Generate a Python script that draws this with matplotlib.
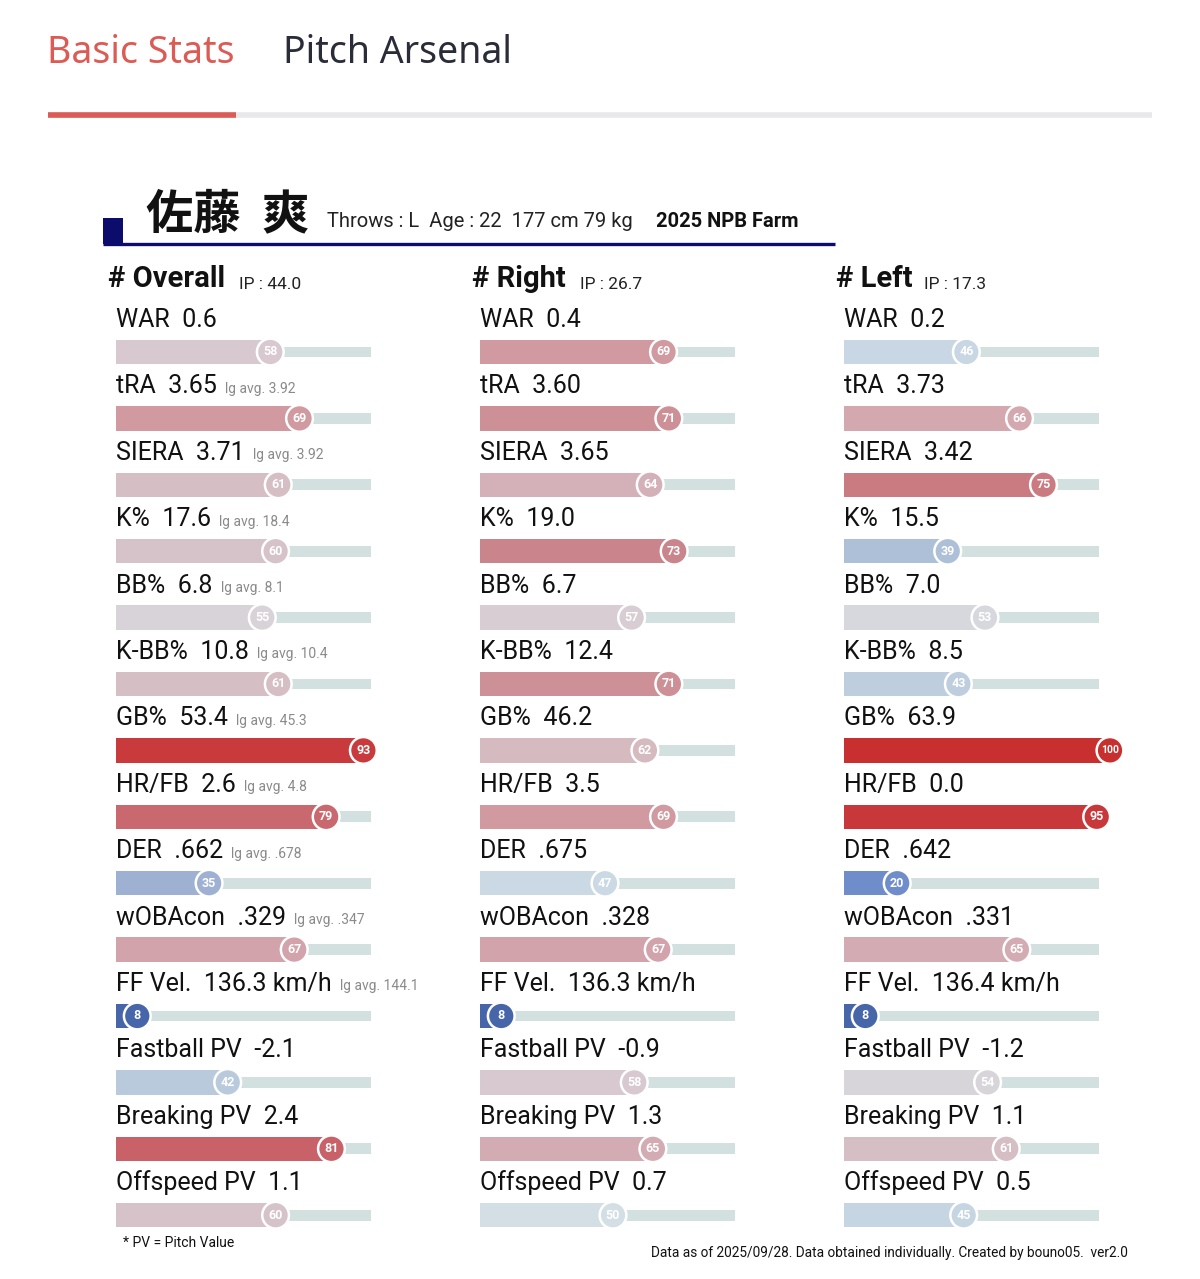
import matplotlib

matplotlib.use("Agg", force=True)

import matplotlib.pyplot as plt
from matplotlib import font_manager
from matplotlib.colors import LinearSegmentedColormap

# ---- data ----
stat_names = ["WAR", "tRA", "SIERA", "K%", "BB%", "K-BB%", "GB%", "HR/FB", "DER",
              "wOBAcon", "FF Vel.", "Fastball PV", "Breaking PV", "Offspeed PV"]
lg_avg = ["", "3.92", "3.92", "18.4", "8.1", "10.4", "45.3", "4.8", ".678", ".347",
          "144.1", "", "", ""]

split_names = ["Overall", "Right", "Left"]
split_ip = ["44.0", "26.7", "17.3"]

overall_values = ["0.6", "3.65", "3.71", "17.6", "6.8", "10.8", "53.4", "2.6", ".662",
                  ".329", "136.3 km/h", "-2.1", "2.4", "1.1"]
overall_pct = [58, 69, 61, 60, 55, 61, 93, 79, 35, 67, 8, 42, 81, 60]

right_values = ["0.4", "3.60", "3.65", "19.0", "6.7", "12.4", "46.2", "3.5", ".675",
                ".328", "136.3 km/h", "-0.9", "1.3", "0.7"]
right_pct = [69, 71, 64, 73, 57, 71, 62, 69, 47, 67, 8, 58, 65, 50]

left_values = ["0.2", "3.73", "3.42", "15.5", "7.0", "8.5", "63.9", "0.0", ".642",
               ".331", "136.4 km/h", "-1.2", "1.1", "0.5"]
left_pct = [46, 66, 75, 39, 53, 43, 100, 95, 20, 65, 8, 54, 61, 45]

player_name = "佐藤  爽"
profile = "Throws : L  Age : 22  177 cm 79 kg"
season = "2025 NPB Farm"

# ---- fonts ----
available = {f.name for f in font_manager.fontManager.ttflist}
NARROW = "Liberation Sans Narrow" if "Liberation Sans Narrow" in available else "Roboto"
CJK = ["Noto Sans CJK JP", "DejaVu Sans"]

cmap = LinearSegmentedColormap.from_list("pct", [
    (0.00, "#3a5aa3"), (0.08, "#4766aa"), (0.20, "#6e8dca"), (0.35, "#9fb1d2"),
    (0.45, "#c6d5e2"), (0.50, "#d3dfe6"), (0.55, "#d8d3d8"), (0.60, "#d6c3c9"),
    (0.68, "#d29fa6"), (0.73, "#c9858b"), (0.80, "#c9666c"), (0.93, "#c83a3d"),
    (1.00, "#c83030"),
])

W, H = 1200, 1279
fig = plt.figure(figsize=(W / 100, H / 100), dpi=100)
fig.patch.set_facecolor("white")


def fx(px):
    return px / W


def fy(py):
    return 1 - py / H


# ---- tab header ----
fig.text(fx(47), fy(53), "Basic Stats", fontsize=27, color="#dc5b55",
         family="Noto Sans", va="center")
fig.text(fx(283), fy(53), "Pitch Arsenal", fontsize=27, color="#2a2c38",
         family="Noto Sans", va="center")
tab = fig.add_axes([0, 0, 1, 1], zorder=-1)
tab.set_xlim(0, W)
tab.set_ylim(H, 0)
tab.axis("off")
tab.plot([48, 1152], [115, 115], color="#e8e8ea", lw=4, solid_capstyle="butt")
tab.plot([48, 236], [115, 115], color="#dc5b55", lw=4, solid_capstyle="butt")

# ---- player title ----
tab.plot([103, 835], [243.5, 243.5], color="#0c0c6c", lw=2.4, solid_capstyle="butt")
tab.fill_between([103, 123], 218, 244, color="#0c0c6c", lw=0)
fig.text(fx(146), fy(228), player_name, fontsize=34, fontweight="bold",
         family=CJK, va="baseline", color="#111111")
fig.text(fx(327), fy(227), profile, fontsize=14.5, family=NARROW,
         va="baseline", color="#222222")
fig.text(fx(656), fy(227), season, fontsize=14.5, family=NARROW,
         fontweight="bold", va="baseline", color="#111111")

# ---- stat columns ----
col_left = [116, 480, 844]
scale = 2.66          # px per percentile point
row_step = 66.4       # px between rows
first_row = 352
n_rows = len(stat_names)
y_top, y_bot = -1.6, n_rows - 0.5

columns = [
    (overall_values, overall_pct),
    (right_values, right_pct),
    (left_values, left_pct),
]

for c, (values, pct) in enumerate(columns):
    top_px = first_row + y_top * row_step
    bot_px = first_row + y_bot * row_step
    ax = fig.add_axes([fx(col_left[c]), fy(bot_px), 100 * scale / W, (bot_px - top_px) / H])
    ax.set_xlim(0, 100)
    ax.set_ylim(y_bot, y_top)
    ax.axis("off")

    head = ax.text(-3, -0.98, f"# {split_names[c]}", fontsize=21, fontweight="bold",
                   family=NARROW, va="baseline", color="#111111")
    ax.annotate(f"IP : {split_ip[c]}", xy=(1, 0), xycoords=head, xytext=(10 if c < 2 else 8, 1),
                textcoords="offset points", fontsize=12.5, family=NARROW,
                va="bottom", color="#222222")

    rows = list(range(n_rows))
    colors = [cmap(p / 100) for p in pct]
    ax.barh(rows, [96] * n_rows, height=0.16, color="#d3e0e0", zorder=1)
    ax.barh(rows, pct, height=0.37, color=colors, zorder=2)
    ax.scatter(pct, rows, s=370, c=colors, edgecolors="white", linewidths=1.8,
               zorder=3, clip_on=False)
    for i, p in enumerate(pct):
        ax.text(p, i, str(p), fontsize=9 if p < 100 else 7.5, fontweight="bold",
                color="white", ha="center", va="center", family=NARROW, zorder=4)
        label = ax.text(0, i - 0.3, f"{stat_names[i]}  {values[i]}", fontsize=18,
                        family=NARROW, va="bottom", color="#111111")
        if c == 0 and lg_avg[i]:
            ax.annotate(f"lg avg. {lg_avg[i]}", xy=(1, 0), xycoords=label,
                        xytext=(6, 2), textcoords="offset points", fontsize=10,
                        family=NARROW, color="#8a8a8a", va="bottom")

fig.text(fx(123), fy(1243), "* PV = Pitch Value", fontsize=10, family=NARROW,
         va="center", color="#111111")
fig.text(fx(1128), fy(1253),
         "Data as of 2025/09/28. Data obtained individually. Created by bouno05.  ver2.0",
         fontsize=9.8, family=NARROW, va="center", ha="right", color="#111111")

fig.savefig("out.png", dpi=100, facecolor="white")
